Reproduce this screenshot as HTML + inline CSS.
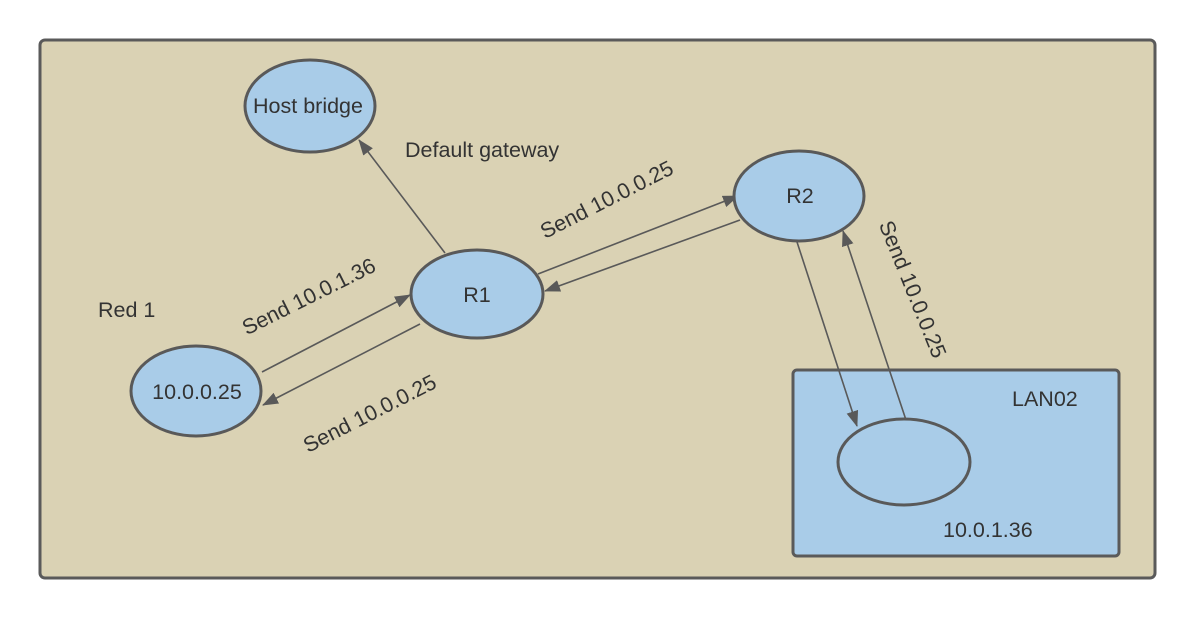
<!DOCTYPE html>
<html><head><style>html,body{margin:0;padding:0;background:#fff}svg{display:block}text{font-family:"Liberation Sans",sans-serif;fill:#333;font-size:21.5px}</style></head>
<body>
<svg width="1196" height="618" viewBox="0 0 1196 618" xmlns="http://www.w3.org/2000/svg">
<defs><marker id="b" markerWidth="16" markerHeight="12" refX="15" refY="6" orient="auto" markerUnits="userSpaceOnUse"><path d="M0,0 L16,6 L0,12 Z" fill="#595959"/></marker></defs>
<rect x="40" y="40" width="1115" height="538" rx="5" fill="#dad2b4" stroke="#5a5a5a" stroke-width="3"/>
<rect x="793" y="370" width="326" height="186" rx="4" fill="#a9cce8" stroke="#5a5a5a" stroke-width="3"/>
<g stroke="#595959" stroke-width="1.6" fill="none">
<line x1="445" y1="253" x2="359" y2="140" marker-end="url(#b)"/>
<line x1="262" y1="372" x2="410" y2="295" marker-end="url(#b)"/>
<line x1="420" y1="324" x2="263" y2="405" marker-end="url(#b)"/>
<line x1="538" y1="274" x2="738" y2="196" marker-end="url(#b)"/>
<line x1="740" y1="220" x2="545" y2="291" marker-end="url(#b)"/>
<line x1="797" y1="242" x2="857" y2="426" marker-end="url(#b)"/>
<line x1="906" y1="420" x2="843" y2="231" marker-end="url(#b)"/>
</g>
<g fill="#a9cce8" stroke="#595959" stroke-width="3">
<ellipse cx="310" cy="106" rx="65" ry="46"/>
<ellipse cx="477" cy="294" rx="66" ry="44"/>
<ellipse cx="799" cy="196" rx="65" ry="45"/>
<ellipse cx="196" cy="391" rx="65" ry="45"/>
<ellipse cx="904" cy="462" rx="66" ry="43"/>
</g>
<text x="308" y="113" text-anchor="middle">Host bridge</text>
<text x="477" y="302" text-anchor="middle">R1</text>
<text x="800" y="203" text-anchor="middle">R2</text>
<text x="197" y="399" text-anchor="middle">10.0.0.25</text>
<text x="405" y="157">Default gateway</text>
<text x="98" y="317">Red 1</text>
<text x="1012" y="406">LAN02</text>
<text x="943" y="537">10.0.1.36</text>
<text transform="translate(610,206) rotate(-27)" text-anchor="middle">Send 10.0.0.25</text>
<text transform="translate(312,303) rotate(-26.5)" text-anchor="middle">Send 10.0.1.36</text>
<text transform="translate(373,420) rotate(-27)" text-anchor="middle">Send 10.0.0.25</text>
<text transform="translate(906,292) rotate(68)" text-anchor="middle">Send 10.0.0.25</text>
</svg>
</body></html>
